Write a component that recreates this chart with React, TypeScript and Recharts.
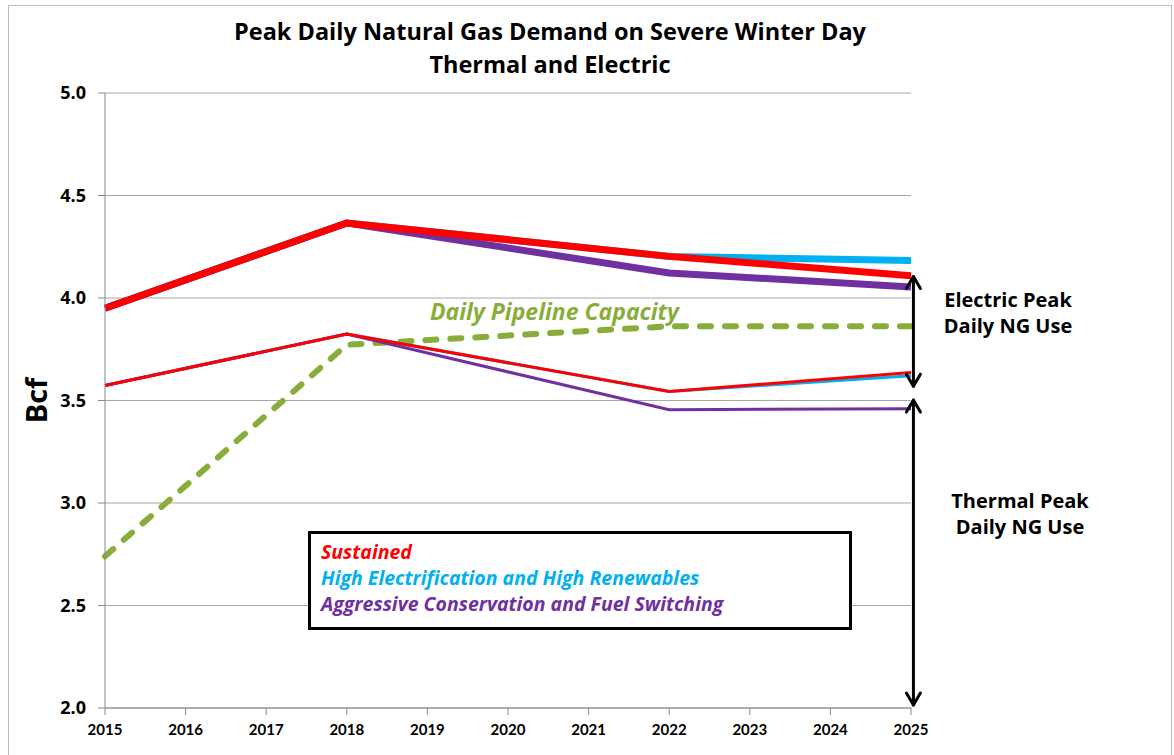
import React from 'react';
import { LineChart, Line, XAxis, YAxis, CartesianGrid, ReferenceLine, Legend } from 'recharts';

const years = [2015, 2018, 2022, 2025];
const sustainedTotal = [3.95, 4.366, 4.203, 4.109];
const electrifTotal = [3.95, 4.366, 4.203, 4.183];
const conservTotal = [3.95, 4.366, 4.122, 4.054];
const sustainedThermal = [3.573, 3.824, 3.544, 3.637];
const electrifThermal = [3.573, 3.824, 3.544, 3.621];
const conservThermal = [3.573, 3.824, 3.455, 3.46];
const pipelineCapacity = [2.74, 3.772, 3.862, 3.862];

const xTicks = [2015, 2016, 2017, 2018, 2019, 2020, 2021, 2022, 2023, 2024, 2025];
const yTicks = [2.0, 2.5, 3.0, 3.5, 4.0, 4.5, 5.0];

const legendItems = [
  { name: 'Sustained', color: '#FF0000' },
  { name: 'High Electrification and High Renewables', color: '#00B0F0' },
  { name: 'Aggressive Conservation and Fuel Switching', color: '#7030A0' },
];

const data = years.map((year, i) => ({
  year,
  sTot: sustainedTotal[i],
  eTot: electrifTotal[i],
  cTot: conservTotal[i],
  sTh: sustainedThermal[i],
  eTh: electrifThermal[i],
  cTh: conservThermal[i],
  pipe: pipelineCapacity[i],
}));

const font = '"Open Sans", Lato, sans-serif';

// line with open arrow heads at the chosen ends
function arrowShape(top: boolean, bottom: boolean) {
  return (props: any) => {
    const { x1, y1, x2, y2 } = props;
    const yTop = Math.min(y1, y2);
    const yBot = Math.max(y1, y2);
    const x = x1;
    return (
      <g stroke="#000" strokeWidth={3} fill="none" strokeLinecap="round" strokeLinejoin="round">
        <line x1={x} y1={yTop + 1} x2={x2} y2={yBot - 1} />
        {top && <path d={`M${x - 7},${yTop + 13} L${x},${yTop + 1} L${x + 7},${yTop + 13}`} />}
        {bottom && <path d={`M${x - 7},${yBot - 13} L${x},${yBot - 1} L${x + 7},${yBot - 13}`} />}
      </g>
    );
  };
}

function LegendBox() {
  return (
    <div
      style={{
        width: 538,
        height: 93,
        border: '3px solid #000',
        background: '#fff',
        boxSizing: 'content-box',
        padding: 0,
      }}
    >
      <div style={{ paddingLeft: 10, paddingTop: 5 }}>
        {legendItems.map((it) => (
          <div
            key={it.name}
            style={{
              color: it.color,
              fontFamily: font,
              fontStyle: 'italic',
              fontWeight: 700,
              fontSize: 19.5,
              lineHeight: '26px',
              textAlign: 'left',
              whiteSpace: 'nowrap',
            }}
          >
            {it.name}
          </div>
        ))}
      </div>
    </div>
  );
}

export default function App() {
  return (
    <div style={{ position: 'absolute', left: 0, top: 0, width: 1174, height: 755, overflow: 'hidden', background: '#fff' }}>
      <div
        style={{
          position: 'absolute',
          left: 8,
          top: 5,
          width: 1162,
          height: 780,
          border: '1px solid #BDBDBD',
        }}
      />
      <div
        style={{
          position: 'absolute',
          left: 150,
          top: 15,
          width: 800,
          textAlign: 'center',
          fontFamily: font,
          fontWeight: 700,
          fontSize: 23.5,
          lineHeight: '33px',
          color: '#000',
        }}
      >
        <div>Peak Daily Natural Gas Demand on Severe Winter Day</div>
        <div>Thermal and Electric</div>
      </div>

      <div style={{ position: 'absolute', left: 0, top: 0 }}>
        <LineChart width={1174} height={755} data={data} margin={{ top: 93, right: 263, bottom: 17, left: 45 }}>
          <CartesianGrid vertical={false} stroke="#A6A6A6" strokeWidth={1} />
          <XAxis
            dataKey="year"
            type="number"
            domain={[2015, 2025]}
            ticks={xTicks}
            interval={0}
            height={30}
            stroke="#888"
            tickSize={7}
            tickMargin={9}
            tick={{ fill: '#000', fontSize: 15, fontWeight: 700, fontFamily: 'Lato, sans-serif' }}
          />
          <YAxis
            type="number"
            domain={[2, 5]}
            ticks={yTicks}
            interval={0}
            width={60}
            stroke="#888"
            tickSize={7}
            tickMargin={12}
            tickFormatter={(v: number) => v.toFixed(1)}
            tick={{ fill: '#000', fontSize: 18, fontWeight: 700, fontFamily: font }}
            label={{
              value: 'Bcf',
              angle: -90,
              position: 'insideLeft',
              offset: -8,
              style: { fontSize: 29, fontWeight: 700, fontFamily: font, fill: '#000', textAnchor: 'middle' },
            }}
          />
          <Line dataKey="pipe" stroke="#88AD3A" strokeWidth={6} strokeDasharray="11 14" strokeLinecap="round" dot={false} isAnimationActive={false} />
          <Line dataKey="eTh" stroke="#00B0F0" strokeWidth={3} dot={false} isAnimationActive={false} />
          <Line dataKey="cTh" stroke="#7030A0" strokeWidth={3} dot={false} isAnimationActive={false} />
          <Line dataKey="sTh" stroke="#FF0000" strokeWidth={3} dot={false} isAnimationActive={false} />
          <Line dataKey="eTot" stroke="#00B0F0" strokeWidth={7} dot={false} isAnimationActive={false} />
          <Line dataKey="cTot" stroke="#7030A0" strokeWidth={7} dot={false} isAnimationActive={false} />
          <Line dataKey="sTot" stroke="#FF0000" strokeWidth={7} dot={false} isAnimationActive={false} />
          <ReferenceLine
            segment={[{ x: 2025.03, y: 4.11 }, { x: 2025.03, y: 3.565 }]}
            ifOverflow="visible"
            shape={arrowShape(true, true)}
          />
          <ReferenceLine
            segment={[{ x: 2025.03, y: 3.507 }, { x: 2025.03, y: 2.01 }]}
            ifOverflow="visible"
            shape={arrowShape(true, true)}
          />
          <Legend
            layout="vertical"
            align="center"
            verticalAlign="middle"
            content={() => <LegendBox />}
            wrapperStyle={{ left: 308, top: 531, width: 544, height: 99 }}
          />
        </LineChart>
      </div>

      <div
        style={{
          position: 'absolute',
          left: 430,
          top: 295,
          fontFamily: font,
          fontStyle: 'italic',
          fontWeight: 700,
          fontSize: 23,
          color: '#88AD3A',
          whiteSpace: 'nowrap',
        }}
      >
        Daily Pipeline Capacity
      </div>
      <div
        style={{
          position: 'absolute',
          left: 918,
          top: 287,
          width: 180,
          textAlign: 'center',
          fontFamily: font,
          fontWeight: 700,
          fontSize: 20,
          lineHeight: '26px',
          color: '#000',
        }}
      >
        <div>Electric Peak</div>
        <div>Daily NG Use</div>
      </div>
      <div
        style={{
          position: 'absolute',
          left: 930,
          top: 488,
          width: 180,
          textAlign: 'center',
          fontFamily: font,
          fontWeight: 700,
          fontSize: 20,
          lineHeight: '26px',
          color: '#000',
        }}
      >
        <div>Thermal Peak</div>
        <div>Daily NG Use</div>
      </div>
    </div>
  );
}
